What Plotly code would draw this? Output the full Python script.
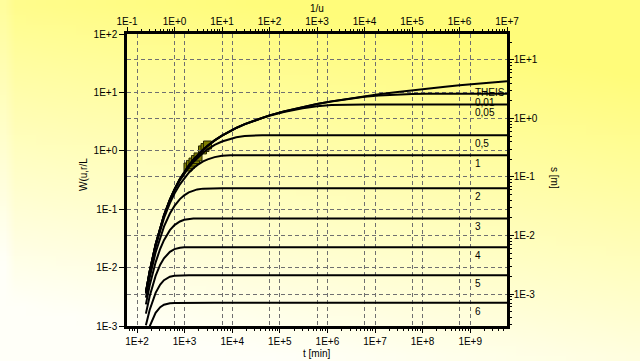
import math
import plotly.graph_objects as go
import zlib, struct, base64

# ---------------- data ----------------
inv_u = [0.25, 0.3, 0.4, 0.5, 0.6, 0.8, 1, 1.3, 1.6, 2, 2.5, 3, 4, 5, 7, 10, 15, 20, 30, 50, 70, 100, 200, 500,
         1e3, 2e3, 5e3, 1e4, 2e4, 5e4, 1e5, 2e5, 5e5, 1e6, 1e7]

w_theis = [0.00378, 0.00857, 0.0249, 0.0489, 0.0783, 0.146, 0.219, 0.328, 0.432, 0.56, 0.702, 0.829, 1.04, 1.22,
           1.51, 1.82, 2.2, 2.47, 2.86, 3.35, 3.69, 4.04, 4.73, 5.64, 6.33, 7.02, 7.94, 8.63, 9.33, 10.2, 10.9,
           11.6, 12.5, 13.2, 15.5]
w_001 = [0.00378, 0.00857, 0.0249, 0.0489, 0.0783, 0.146, 0.219, 0.328, 0.432, 0.56, 0.702, 0.829, 1.04, 1.22,
         1.51, 1.82, 2.2, 2.47, 2.86, 3.35, 3.68, 4.04, 4.72, 5.63, 6.31, 6.98, 7.82, 8.4, 8.88, 9.3, 9.42,
         9.44, 9.44, 9.44, 9.44]
w_005 = [0.00378, 0.00857, 0.0249, 0.0489, 0.0783, 0.146, 0.219, 0.328, 0.432, 0.559, 0.701, 0.828, 1.04, 1.22,
         1.51, 1.82, 2.19, 2.46, 2.84, 3.33, 3.65, 3.98, 4.61, 5.35, 5.80, 6.08, 6.22, 6.23, 6.23, 6.23, 6.23,
         6.23, 6.23, 6.23, 6.23]
w_05 = [0.00373, 0.00844, 0.0244, 0.0477, 0.0762, 0.141, 0.21, 0.312, 0.407, 0.521, 0.645, 0.751, 0.924, 1.06,
        1.26, 1.44, 1.62, 1.71, 1.79, 1.84, 1.85, 1.85, 1.85, 1.85, 1.85, 1.85, 1.85, 1.85, 1.85, 1.85, 1.85,
        1.85, 1.85, 1.85, 1.85]
w_1 = [0.00358, 0.00806, 0.023, 0.0444, 0.0701, 0.127, 0.185, 0.267, 0.34, 0.421, 0.502, 0.566, 0.657, 0.715,
       0.78, 0.819, 0.837, 0.841, 0.842, 0.842, 0.842, 0.842, 0.842, 0.842, 0.842, 0.842, 0.842, 0.842, 0.842,
       0.842, 0.842, 0.842, 0.842, 0.842, 0.842]
w_2 = [0.00306, 0.0067, 0.0182, 0.0334, 0.0504, 0.0842, 0.114, 0.149, 0.173, 0.194, 0.21, 0.218, 0.225, 0.227,
       0.228, 0.228, 0.228, 0.228, 0.228, 0.228, 0.228, 0.228, 0.228, 0.228, 0.228, 0.228, 0.228, 0.228, 0.228,
       0.228, 0.228, 0.228, 0.228, 0.228, 0.228]
w_3 = [0.00235, 0.00493, 0.0123, 0.021, 0.0295, 0.0437, 0.0534, 0.0617, 0.0658, 0.0681, 0.0691, 0.0694, 0.0695,
       0.0695, 0.0695, 0.0695, 0.0695, 0.0695, 0.0695, 0.0695, 0.0695, 0.0695, 0.0695, 0.0695, 0.0695, 0.0695,
       0.0695, 0.0695, 0.0695, 0.0695, 0.0695, 0.0695, 0.0695, 0.0695, 0.0695]
w_4 = [0.00163, 0.00322, 0.0072, 0.0112, 0.0144, 0.0186, 0.0207, 0.0219, 0.0222, 0.0223, 0.0223, 0.0223, 0.0223,
       0.0223, 0.0223, 0.0223, 0.0223, 0.0223, 0.0223, 0.0223, 0.0223, 0.0223, 0.0223, 0.0223, 0.0223, 0.0223,
       0.0223, 0.0223, 0.0223, 0.0223, 0.0223, 0.0223, 0.0223, 0.0223, 0.0223]
w_5 = [0.00103, 0.00188, 0.00369, 0.00513, 0.00609, 0.00699, 0.00727, 0.00737, 0.00738, 0.00738, 0.00738, 0.00738,
       0.00738, 0.00738, 0.00738, 0.00738, 0.00738, 0.00738, 0.00738, 0.00738, 0.00738, 0.00738, 0.00738, 0.00738,
       0.00738, 0.00738, 0.00738, 0.00738, 0.00738, 0.00738, 0.00738, 0.00738, 0.00738, 0.00738, 0.00738]
w_6 = [0.000586, 0.000986, 0.00168, 0.0021, 0.00232, 0.00246, 0.00248, 0.00249, 0.00249, 0.00249, 0.00249, 0.00249,
       0.00249, 0.00249, 0.00249, 0.00249, 0.00249, 0.00249, 0.00249, 0.00249, 0.00249, 0.00249, 0.00249, 0.00249,
       0.00249, 0.00249, 0.00249, 0.00249, 0.00249, 0.00249, 0.00249, 0.00249, 0.00249, 0.00249, 0.00249]

curves = [w_theis, w_001, w_005, w_05, w_1, w_2, w_3, w_4, w_5, w_6]
curve_labels = ["THEIS", "0,01", "0,05", "0,5", "1", "2", "3", "4", "5", "6"]
label_y = [14.0, 9.44, 6.23, 1.85, 0.842, 0.228, 0.0695, 0.0223, 0.00738, 0.00249]
label_inv_u = 1.9e6

# observed drawdown (t [min], s [m])
obs_t = [1178, 1330, 1500, 1694, 1914, 2378, 2686, 3030]
obs_s = [0.148, 0.164, 0.180, 0.199, 0.220, 0.290, 0.319, 0.352]

t_ticks = [1e2, 1e3, 1e4, 1e5, 1e6, 1e7, 1e8, 1e9]
t_text = ["1E+2", "1E+3", "1E+4", "1E+5", "1E+6", "1E+7", "1E+8", "1E+9"]
u_ticks = [1e-1, 1e0, 1e1, 1e2, 1e3, 1e4, 1e5, 1e6, 1e7]
u_text = ["1E-1", "1E+0", "1E+1", "1E+2", "1E+3", "1E+4", "1E+5", "1E+6", "1E+7"]
w_ticks = [1e-3, 1e-2, 1e-1, 1e0, 1e1, 1e2]
w_text = ["1E-3", "1E-2", "1E-1", "1E+0", "1E+1", "1E+2"]
s_ticks = [1e-3, 1e-2, 1e-1, 1e0, 1e1]
s_text = ["1E-3", "1E-2", "1E-1", "1E+0", "1E+1"]


# ---------------- background gradient ----------------
def gradient_png(w, h):
    rows = []
    for j in range(h):
        t = j / (h - 1)
        row = bytearray([0])
        for i in range(w):
            s = i / (w - 1)
            k = min(max(0.15 + 1.0 * t - 0.35 * s, 0.0), 1.0)
            if i == 0:
                k = min(k + 0.12, 1.0)
            row += bytes([255, round(252 + 3 * k), round(122 + (248 - 122) * k)])
        rows.append(bytes(row))
    raw = b"".join(rows)

    def chunk(tag, data):
        return (struct.pack(">I", len(data)) + tag + data
                + struct.pack(">I", zlib.crc32(tag + data) & 0xffffffff))

    png = (b"\x89PNG\r\n\x1a\n"
           + chunk(b"IHDR", struct.pack(">IIBBBBB", w, h, 8, 2, 0, 0, 0))
           + chunk(b"IDAT", zlib.compress(raw, 9))
           + chunk(b"IEND", b""))
    return "data:image/png;base64," + base64.b64encode(png).decode()


W_PX, H_PX = 640, 361
L, R, T, B = 127, 133, 34, 35
PW, PH = W_PX - L - R, H_PX - T - B

fig = go.Figure()
for w in curves:
    fig.add_trace(go.Scatter(x=inv_u, y=w, mode="lines", line=dict(color="black", width=2),
                             xaxis="x2", yaxis="y", hoverinfo="skip"))
fig.add_trace(go.Scatter(x=obs_t, y=obs_s, mode="markers", xaxis="x", yaxis="y2",
                         marker=dict(symbol="square", size=8, color="#7f7f00",
                                     line=dict(color="#262600", width=1))))

common = dict(type="log", showline=True, linewidth=2.5, linecolor="black", ticks="outside", ticklen=4,
              tickwidth=1, tickcolor="black", showgrid=True, gridcolor="#707070", gridwidth=1,
              griddash="4px,3px", tickmode="array", zeroline=False,
              tickfont=dict(size=10, color="black"))
minor = dict(dtick="D1", ticks="outside", ticklen=2, tickcolor="black", tickwidth=1, showgrid=False)

annotations = []
for lab, yv in zip(curve_labels, label_y):
    annotations.append(dict(text=lab, xref="x2", yref="y", x=math.log10(label_inv_u), y=math.log10(yv),
                            xanchor="left", yanchor="top", yshift=-1, showarrow=False,
                            font=dict(size=10, color="black")))
annotations += [
    dict(text="1/u", xref="paper", yref="paper", x=(317 - L) / PW, y=1, yshift=T - 8,
         xanchor="center", yanchor="middle", showarrow=False, font=dict(size=10)),
    dict(text="t [min]", xref="paper", yref="paper", x=(316 - L) / PW, y=0, yshift=-(353 - (H_PX - B)),
         xanchor="center", yanchor="middle", showarrow=False, font=dict(size=10)),
    dict(text="W(u,r/L", xref="paper", yref="paper", x=0, xshift=83 - L, y=(H_PX - B - 175) / PH,
         xanchor="center", yanchor="middle", textangle=-90, showarrow=False, font=dict(size=10)),
    dict(text="s [m]", xref="paper", yref="paper", x=1, xshift=555 - (W_PX - R), y=(H_PX - B - 178) / PH,
         xanchor="center", yanchor="middle", textangle=90, showarrow=False, font=dict(size=10)),
]

fig.update_layout(
    width=W_PX, height=H_PX, margin=dict(l=L, r=R, t=T, b=B), showlegend=False,
    paper_bgcolor="#fffff0", plot_bgcolor="rgba(0,0,0,0)",
    font=dict(family="Liberation Sans, Arial, sans-serif", size=10, color="black"),
    xaxis=dict(common, range=[1.79, 9.773], tickvals=t_ticks, ticktext=t_text, side="bottom",
               anchor="y", minor=minor),
    xaxis2=dict(common, range=[-1, 7], tickvals=u_ticks, ticktext=u_text, side="top",
                overlaying="x", anchor="y", minor=minor, ticklabelstandoff=-2),
    yaxis=dict(common, range=[-3, 2], tickvals=w_ticks, ticktext=w_text, side="left", ticklen=5),
    yaxis2=dict(common, range=[-3.547, 1.444], tickvals=s_ticks, ticktext=s_text, side="right",
                overlaying="y", anchor="x", minor=minor, ticklabelstandoff=-2),
    annotations=annotations,
    images=[dict(source=gradient_png(64, 36), xref="paper", yref="paper", x=-L / PW, y=1 + T / PH,
                 sizex=W_PX / PW, sizey=H_PX / PH, sizing="stretch", xanchor="left", yanchor="top",
                 layer="below")],
)

fig.write_html("out.html", config={"displayModeBar": False},
               post_script="document.body.style.margin='0';document.body.style.overflow='hidden';")
